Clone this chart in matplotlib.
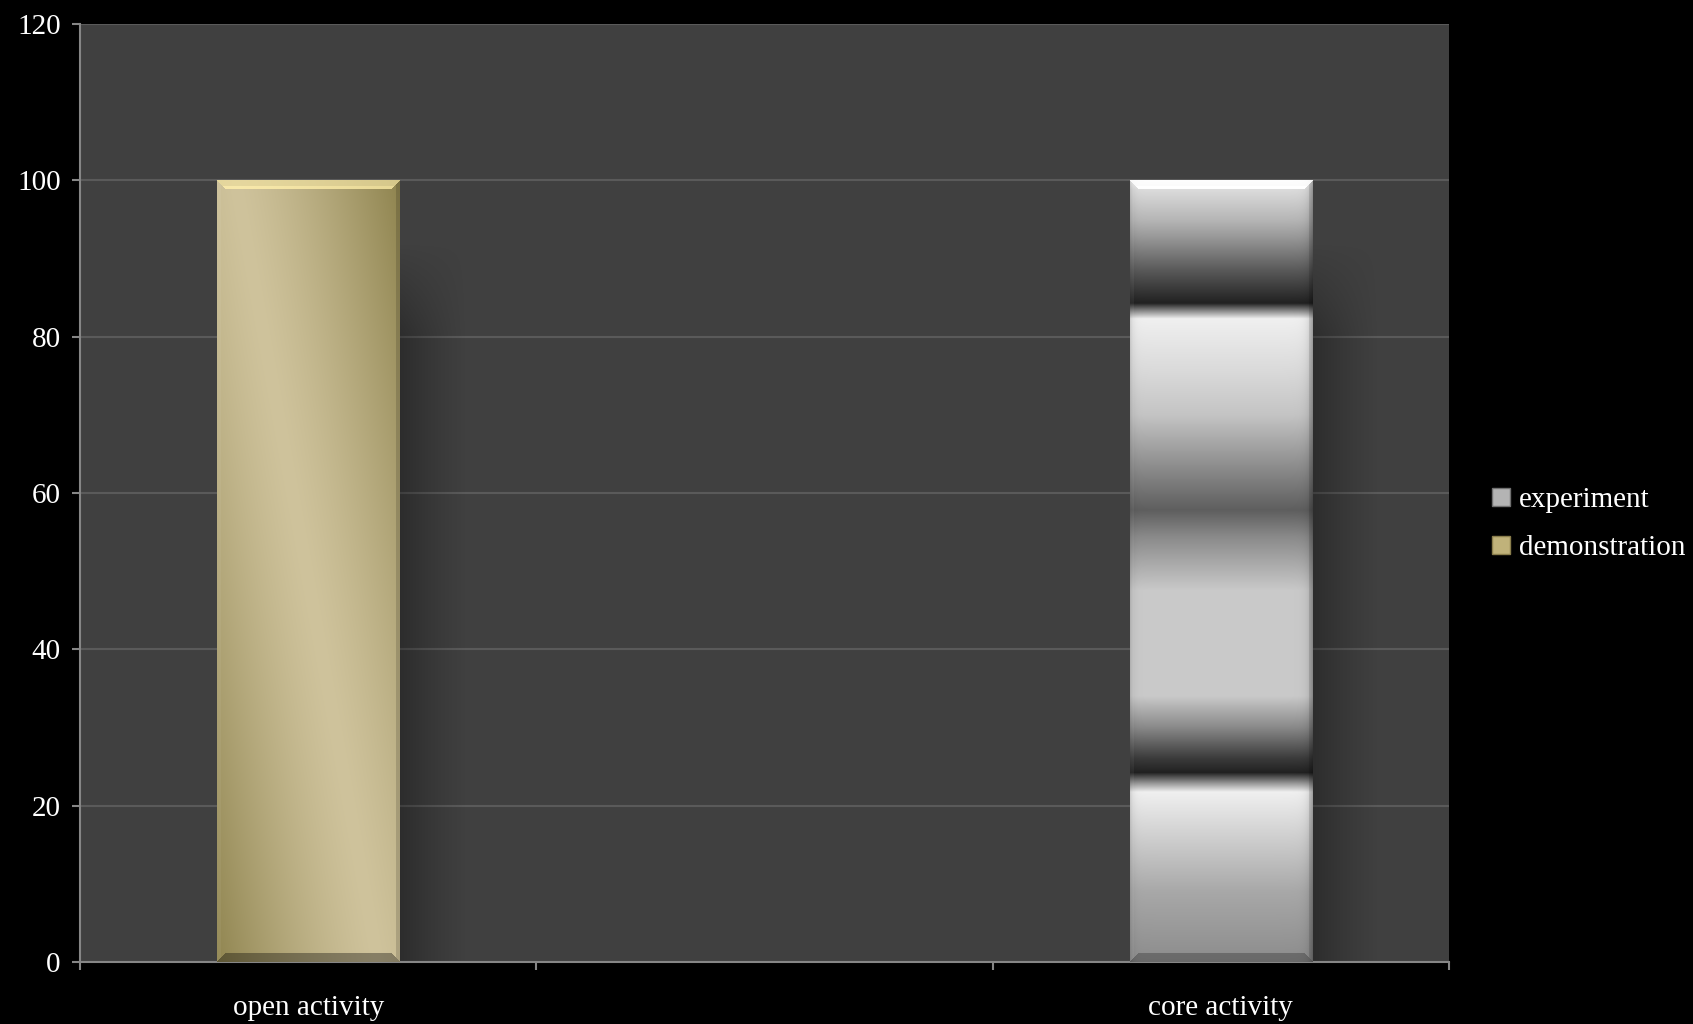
import numpy as np
import matplotlib.pyplot as plt
from matplotlib.patches import Patch

categories = ['open activity', '', 'core activity']
experiment = [0, 0, 100]
demonstration = [100, 0, 0]
yticks = [0, 20, 40, 60, 80, 100, 120]

plt.rcParams['font.family'] = ['Liberation Serif', 'DejaVu Serif']

fig = plt.figure(figsize=(16.93, 10.24), dpi=100, facecolor='black')
ax = fig.add_axes([0.0473, 0.0605, 0.8086, 0.9161])
ax.set_facecolor('#404040')
ax.set_xlim(-0.5, len(categories) - 0.5)
ax.set_ylim(0, 120)

x = np.arange(len(categories))
bw = 0.4
bars_demo = ax.bar(x, demonstration, bw, color='#c0b27a', zorder=3)
bars_exp = ax.bar(x, experiment, bw, bottom=demonstration, color='#b0b0b0', zorder=3)


def bevel(img, top_col, top_a, bot_mul, left_a, right_mul, bt=9, bs=4):
    H, W = img.shape[:2]
    r = np.arange(H)[:, None] * np.ones((1, W))
    c = np.ones((H, 1)) * np.arange(W)[None, :]
    dt, db, dl, dr = r, H - 1 - r, c, W - 1 - c
    top = (dt < bt) & (dt <= dl) & (dt <= dr)
    bot = (db < bt) & (db <= dl) & (db <= dr) & ~top
    left = (dl < bs) & ~top & ~bot
    right = (dr < bs) & ~top & ~bot
    img[top] = img[top] * (1 - top_a) + np.array(top_col) * top_a
    img[bot] = img[bot] * bot_mul
    img[left] = img[left] * (1 - left_a) + left_a
    img[right] = img[right] * right_mul
    # thin bright line under the top bevel
    line = top & (dt >= bt - 3)
    img[line] = np.minimum(img[line] * 1.08, 1)
    return img


def bar_pixels(p):
    (x0, y0), (x1, y1) = ax.transData.transform([(p.get_x(), p.get_y()),
                                                 (p.get_x() + p.get_width(), p.get_y() + p.get_height())])
    return int(round(x1 - x0)), int(round(y1 - y0))


def gold_image(p):
    W, H = bar_pixels(p)
    v = np.linspace(p.get_y() + p.get_height(), p.get_y(), H)[:, None]
    xf = np.linspace(0, 1, W)[None, :]
    center = 0.1 + 0.78 * (1 - v / 100)
    d = np.clip(np.abs(xf - center) / 0.9, 0, 1) ** 1.3
    light = np.array([207, 195, 156]) / 255
    dark = np.array([143, 132, 79]) / 255
    img = light * (1 - d[..., None]) + dark * d[..., None]
    return bevel(img, [0.93, 0.87, 0.62], 0.75, 0.65, 0.05, 0.85)


gray_v = [0, 9, 21.7, 22.8, 24.2, 26, 30, 34, 47.5, 51.4, 54.4, 57.8, 63, 70, 76,
          82.3, 83.4, 84.3, 86.4, 88.5, 92.8, 94.9, 98.8, 100]
gray_l = [0.55, 0.66, 0.94, 0.6, 0.13, 0.23, 0.54, 0.79, 0.79, 0.65, 0.54, 0.37, 0.54, 0.77, 0.86,
          0.94, 0.5, 0.13, 0.24, 0.35, 0.6, 0.71, 0.86, 0.96]


def gray_image(p):
    W, H = bar_pixels(p)
    v = np.linspace(p.get_y() + p.get_height(), p.get_y(), H)
    lev = np.interp(v, gray_v, gray_l)[:, None] * np.ones((1, W))
    c = np.arange(W)[None, :]
    edge = 1 - 0.1 * np.exp(-(c - 1) / 3.0) - 0.18 * np.exp(-(W - 2 - c) / 4.0)
    lev = lev * edge
    img = np.repeat(lev[..., None], 3, axis=2)
    return bevel(img, [1, 1, 1], 0.85, 0.75, 0.05, 0.88)


def draw_shadow(p):
    xr = p.get_x() + p.get_width()
    top = p.get_y() + p.get_height()
    xs = np.linspace(0, 1, 80)[None, :]
    vs = np.linspace(top, 0, 300)[:, None]
    alpha = 0.3 * (1 - xs) ** 1.2 * np.clip((top - 8 - vs) / 12, 0, 1)
    rgba = np.zeros(alpha.shape + (4,))
    rgba[..., 3] = alpha
    ax.imshow(rgba, extent=(xr, xr + 0.145, 0, top), aspect='auto', zorder=1,
              interpolation='bilinear')


for bars, maker in ((bars_demo, gold_image), (bars_exp, gray_image)):
    for p in bars:
        if p.get_height() <= 0:
            continue
        draw_shadow(p)
        img = maker(p)
        x0, w = p.get_x(), p.get_width()
        y0, h = p.get_y(), p.get_height()
        ax.imshow(np.clip(img, 0, 1), extent=(x0, x0 + w, y0, y0 + h), aspect='auto',
                  zorder=4, interpolation='bilinear')

ax.set_xlim(-0.5, len(categories) - 0.5)
ax.set_ylim(0, 120)

ax.set_axisbelow(True)
ax.yaxis.grid(True, color='#5a5a5a', lw=1.5)
ax.set_yticks(yticks)
ax.tick_params(axis='y', colors='#868686', labelcolor='white', length=6, width=1.5,
               pad=8, labelsize=21)
ax.set_xticks(x, categories)
ax.set_xticks(np.arange(-0.5, len(categories), 1), minor=True)
ax.tick_params(axis='x', which='major', length=0, labelcolor='white', pad=24, labelsize=21)
ax.tick_params(axis='x', which='minor', length=6, width=1.5, color='#868686')
for s in ('top', 'right'):
    ax.spines[s].set_visible(False)
for s in ('left', 'bottom'):
    ax.spines[s].set_color('#868686')
    ax.spines[s].set_linewidth(1.5)

handles = [Patch(facecolor='#b4b4b4', edgecolor='#707070', label='experiment'),
           Patch(facecolor='#c0b27a', edgecolor='#8a7e4c', label='demonstration')]
fig.legend(handles=handles, loc='center left', bbox_to_anchor=(0.866, 0.488), frameon=False,
           fontsize=21, labelcolor='white', handlelength=0.6, handleheight=0.6,
           handletextpad=0.3, labelspacing=0.75)

fig.savefig('out.png', dpi=100, facecolor='black')
